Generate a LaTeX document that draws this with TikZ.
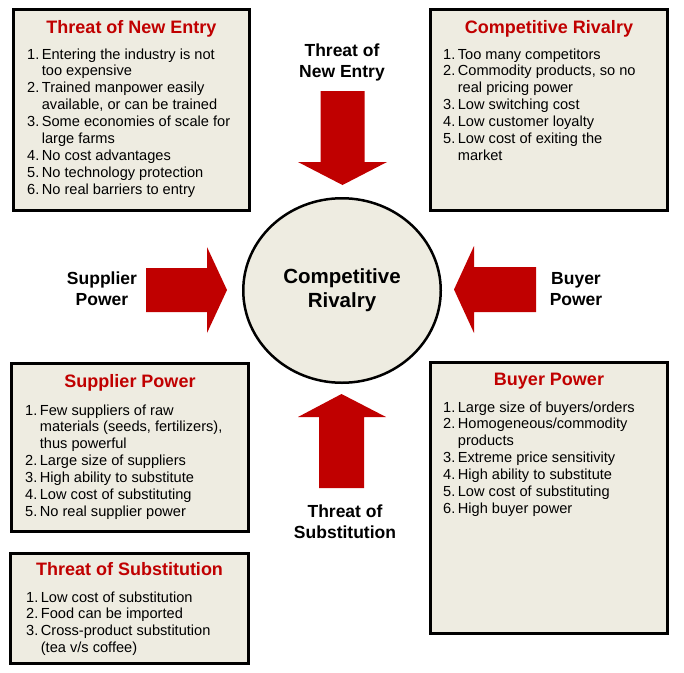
\documentclass[tikz,border=0pt]{standalone}
\usepackage{fontspec}
\setmainfont{Liberation Sans}
\usetikzlibrary{shapes.geometric}
\definecolor{forcered}{HTML}{C00000}
\definecolor{panelfill}{HTML}{EEECE1}
\newcommand{\forcelist}[1]{\begin{tabular}[t]{@{}l@{\hspace{2.5pt}}l@{}}#1\end{tabular}}

\begin{document}
\begin{tikzpicture}[x=1pt, y=-1pt,
    panel/.style={draw=black, line width=3pt, fill=panelfill, inner sep=0pt},
    paneltitle/.style={anchor=base, inner sep=0pt, text=forcered, font=\fontsize{18}{21}\selectfont\bfseries},
    panellist/.style={anchor=base west, inner sep=0pt, font=\fontsize{14.6}{16.9}\selectfont},
    forcelabel/.style={anchor=base, align=center, inner sep=0pt, font=\fontsize{17.5}{20.5}\selectfont\bfseries}]
    \useasboundingbox (0,0) rectangle (684,672);
    % the five boxes
    \node[panel, minimum width=236pt, minimum height=201pt] (entry) at (131.5,110) {};
    \node[panel, minimum width=237pt, minimum height=201pt] (rival) at (549,110) {};
    \node[panel, minimum width=237pt, minimum height=168pt] (supplier) at (130,447.5) {};
    \node[panel, minimum width=237pt, minimum height=271pt] (buyer) at (549,498) {};
    \node[panel, minimum width=238pt, minimum height=110pt] (subst) at (129.5,608.5) {};
    \node[paneltitle] (entrytitle) at (131.5,33) {Threat of New Entry};
    \node[paneltitle] (rivaltitle) at (549,33) {Competitive Rivalry};
    \node[paneltitle] (suppliertitle) at (130,387) {Supplier Power};
    \node[paneltitle] (buyertitle) at (549,385) {Buyer Power};
    \node[paneltitle] (substtitle) at (129.5,575) {Threat of Substitution};
    \node[panellist] (entrylist) at (27,59) {\forcelist{
        1. & Entering the industry is not\\
           & too expensive\\
        2. & Trained manpower easily\\
           & available, or can be trained\\
        3. & Some economies of scale for\\
           & large farms\\
        4. & No cost advantages\\
        5. & No technology protection\\
        6. & No real barriers to entry}};
    \node[panellist] (rivallist) at (443,59) {\forcelist{
        1. & Too many competitors\\
        2. & Commodity products, so no\\
           & real pricing power\\
        3. & Low switching cost\\
        4. & Low customer loyalty\\
        5. & Low cost of exiting the\\
           & market}};
    \node[panellist] (supplierlist) at (25,415) {\forcelist{
        1. & Few suppliers of raw\\
           & materials (seeds, fertilizers),\\
           & thus powerful\\
        2. & Large size of suppliers\\
        3. & High ability to substitute\\
        4. & Low cost of substituting\\
        5. & No real supplier power}};
    \node[panellist] (buyerlist) at (443,412) {\forcelist{
        1. & Large size of buyers/orders\\
        2. & Homogeneous/commodity\\
           & products\\
        3. & Extreme price sensitivity\\
        4. & High ability to substitute\\
        5. & Low cost of substituting\\
        6. & High buyer power}};
    \node[panellist] (substlist) at (26,602) {\forcelist{
        1. & Low cost of substitution\\
        2. & Food can be imported\\
        3. & Cross-product substitution\\
           & (tea v/s coffee)}};
    % centre and the four forces
    \node[ellipse, draw=black, line width=2.5pt, fill=panelfill, minimum width=197.5pt, minimum height=184.5pt,
        inner sep=0pt, align=center, font=\fontsize{20.5}{23}\selectfont\bfseries] (rivalry) at (342,290.5) {Competitive\\[1pt]Rivalry};
    \fill[forcered] (320.5,91) -- (364.5,91) -- (364.5,162) -- (387,162) -- (342.5,185) -- (298,162) -- (320.5,162) -- cycle;
    \fill[forcered] (146,268) -- (207,268) -- (207,247) -- (227,290) -- (207,333) -- (207,312) -- (146,312) -- cycle;
    \fill[forcered] (536,267) -- (474,267) -- (474,246) -- (454,289.5) -- (474,333) -- (474,312) -- (536,312) -- cycle;
    \fill[forcered] (319,488) -- (364,488) -- (364,417) -- (386,417) -- (341.5,394) -- (298,417) -- (319,417) -- cycle;
    \node[forcelabel] (entrylabel) at (342,77) {Threat of\\New Entry};
    \node[forcelabel] (supplierlabel) at (102,305) {Supplier\\Power};
    \node[forcelabel] (buyerlabel) at (576,305) {Buyer\\Power};
    \node[forcelabel] (substlabel) at (345,538) {Threat of\\Substitution};
\end{tikzpicture}
\end{document}
